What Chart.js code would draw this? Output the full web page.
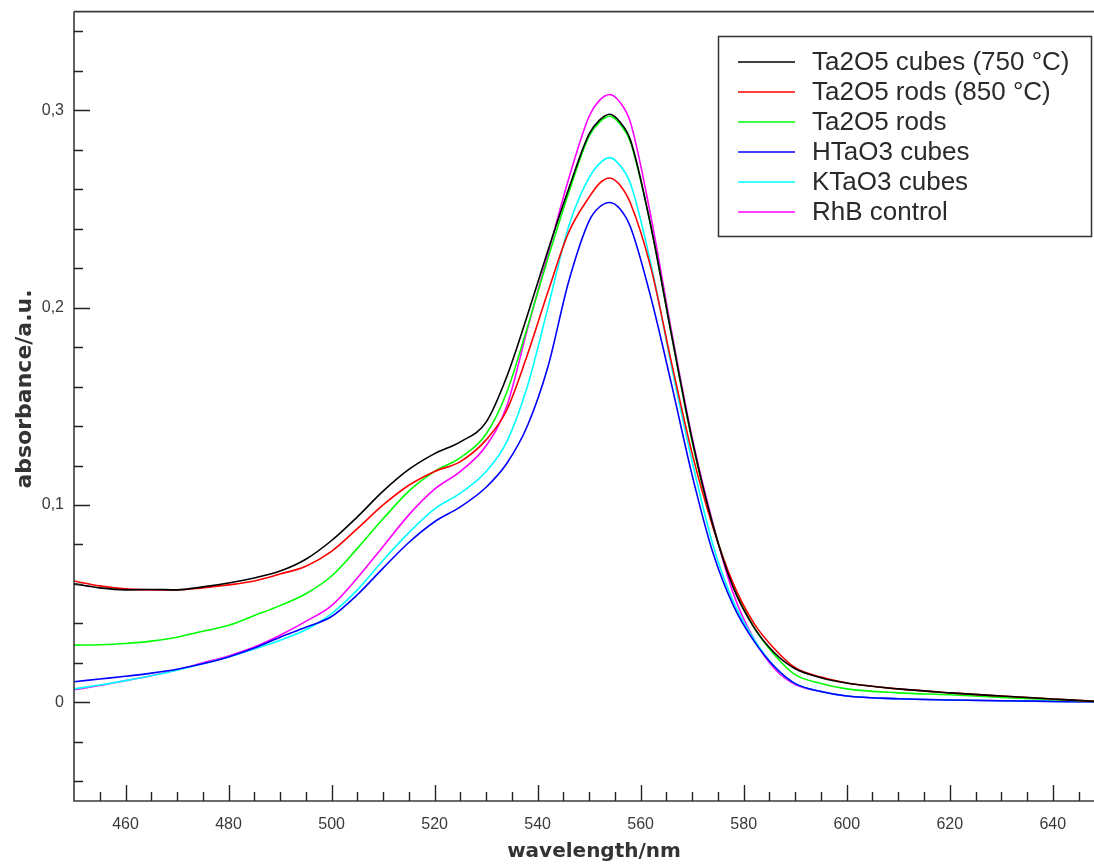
<!DOCTYPE html>
<html>
<head>
<meta charset="utf-8">
<title>absorbance spectra</title>
<script src="https://cdn.jsdelivr.net/npm/chart.js@4.4.1/dist/chart.umd.min.js"></script>
<style>
  html, body { margin: 0; padding: 0; background: #fff; }
  #wrap { width: 1094px; height: 867px; position: relative; }
</style>
</head>
<body>
<div id="wrap"><canvas id="chartSpectra"></canvas></div>
<script>
// wavelength grid (nm) shared by all spectra
const wavelengths = [450, 455, 460, 465, 470, 475, 480, 485, 490, 495, 500, 505, 510, 515, 520, 525, 530,
  534, 538, 542, 546, 550, 552, 554, 556, 558,
  562, 566, 570, 574, 578, 582, 586, 590, 595, 600, 610, 620, 630, 640, 648];

const ta2o5Cubes750 = [0.060, 0.058, 0.057, 0.0572, 0.057, 0.0585, 0.0605, 0.063, 0.0665, 0.0725, 0.082, 0.094, 0.107, 0.118, 0.126, 0.132, 0.142,
  0.165, 0.196, 0.229, 0.260, 0.288, 0.295, 0.298, 0.294, 0.285,
  0.241, 0.186, 0.133, 0.090, 0.058, 0.038, 0.025, 0.017, 0.0125, 0.0098, 0.0068, 0.0048, 0.0032, 0.0017, 0.0005];
const ta2o5Rods850 = [0.0615, 0.059, 0.0575, 0.057, 0.057, 0.058, 0.0595, 0.0615, 0.065, 0.069, 0.0765, 0.088, 0.1, 0.11, 0.117, 0.122, 0.133,
  0.148, 0.176, 0.208, 0.238, 0.256, 0.263, 0.2657, 0.262, 0.253,
  0.220, 0.172, 0.126, 0.089, 0.060, 0.040, 0.027, 0.0175, 0.0128, 0.0098, 0.0068, 0.0048, 0.0032, 0.0017, 0.0005];
const ta2o5Rods = [0.029, 0.0292, 0.0298, 0.031, 0.033, 0.036, 0.039, 0.044, 0.049, 0.055, 0.064, 0.078, 0.093, 0.107, 0.117, 0.124, 0.136,
  0.157, 0.190, 0.225, 0.258, 0.287, 0.294, 0.297, 0.293, 0.284,
  0.241, 0.186, 0.132, 0.090, 0.059, 0.038, 0.024, 0.014, 0.0095, 0.0068, 0.0048, 0.0038, 0.0025, 0.0013, 0.0005];
const htao3Cubes = [0.0104, 0.0118, 0.0132, 0.0148, 0.0168, 0.0195, 0.023, 0.0275, 0.033, 0.038, 0.0435, 0.0545, 0.068, 0.081, 0.0915, 0.099, 0.109,
  0.121, 0.140, 0.170, 0.213, 0.244, 0.251, 0.2533, 0.250, 0.241,
  0.205, 0.161, 0.115, 0.076, 0.049, 0.031, 0.018, 0.0095, 0.0055, 0.0032, 0.0018, 0.0012, 0.0008, 0.0005, 0.0003];
const ktao3Cubes = [0.0068, 0.0088, 0.011, 0.0135, 0.0163, 0.0195, 0.023, 0.027, 0.0315, 0.0368, 0.045, 0.057, 0.072, 0.086, 0.098, 0.106, 0.117,
  0.132, 0.160, 0.200, 0.241, 0.266, 0.273, 0.276, 0.272, 0.263,
  0.222, 0.170, 0.122, 0.080, 0.051, 0.032, 0.018, 0.0095, 0.0055, 0.0032, 0.0018, 0.0012, 0.0008, 0.0005, 0.0003];
const rhbControl = [0.0064, 0.0085, 0.011, 0.0135, 0.0165, 0.020, 0.0235, 0.028, 0.034, 0.041, 0.049, 0.063, 0.079, 0.095, 0.108, 0.117, 0.130,
  0.150, 0.189, 0.227, 0.265, 0.297, 0.305, 0.308, 0.304, 0.294,
  0.246, 0.188, 0.134, 0.091, 0.055, 0.032, 0.017, 0.009, 0.0055, 0.0032, 0.0018, 0.0012, 0.0008, 0.0005, 0.0003];

const seriesNames = ["Ta2O5 cubes (750 °C)", "Ta2O5 rods (850 °C)", "Ta2O5 rods", "HTaO3 cubes", "KTaO3 cubes", "RhB control"];
const seriesValues = [ta2o5Cubes750, ta2o5Rods850, ta2o5Rods, htao3Cubes, ktao3Cubes, rhbControl];
const seriesColors = ["#000000", "#ff0000", "#00ff00", "#0000ff", "#00ffff", "#ff00ff"];

const xTicks = [460, 480, 500, 520, 540, 560, 580, 600, 620, 640];
const yTicks = [0, 0.1, 0.2, 0.3];
const xTitle = "wavelength/nm";
const yTitle = "absorbance/a.u.";

const axisColor = "#3a3a3a";
const labelFont = "Liberation Sans";

// frame, inward ticks and axis titles
const axisFrame = {
  id: "axisFrame",
  afterDraw(chart) {
    const { ctx, chartArea: area, scales } = chart;
    const x = scales.x, y = scales.y;
    ctx.save();
    ctx.strokeStyle = axisColor;
    ctx.lineWidth = 1.6;
    ctx.beginPath();
    ctx.moveTo(area.left, area.top);
    ctx.lineTo(area.right, area.top);
    ctx.moveTo(area.left, area.top);
    ctx.lineTo(area.left, area.bottom);
    ctx.lineTo(area.right, area.bottom);
    ctx.stroke();

    ctx.lineWidth = 1.4;
    ctx.strokeStyle = "#222";
    ctx.beginPath();
    for (let v = 455; v <= 645; v += 5) {
      const px = Math.round(x.getPixelForValue(v)) + 0.5;
      const len = v % 20 === 0 ? 16 : 9;
      ctx.moveTo(px, area.bottom);
      ctx.lineTo(px, area.bottom - len);
    }
    for (let i = -2; i <= 17; i++) {
      const v = i * 0.02;
      const py = Math.round(y.getPixelForValue(v)) + 0.5;
      const len = i % 5 === 0 ? 16 : 9;
      ctx.moveTo(area.left, py);
      ctx.lineTo(area.left + len, py);
    }
    ctx.stroke();

    ctx.fillStyle = "#333";
    ctx.textAlign = "center";
    ctx.textBaseline = "middle";
    ctx.font = "bold 20px 'DejaVu Sans'";
    ctx.fillText(xTitle, 594, 852);
    ctx.font = "bold 22px 'DejaVu Sans'";
    ctx.translate(25, 389);
    ctx.rotate(-Math.PI / 2);
    ctx.fillText(yTitle, 0, 0);
    ctx.restore();
  }
};

// boxed legend at the top right
const boxLegend = {
  id: "boxLegend",
  afterDraw(chart) {
    const ctx = chart.ctx;
    ctx.save();
    ctx.fillStyle = "#fff";
    ctx.fillRect(718, 36, 374, 201);
    ctx.strokeStyle = "#333";
    ctx.lineWidth = 1.5;
    ctx.strokeRect(718.5, 36.5, 373, 200);
    ctx.font = `26px '${labelFont}'`;
    ctx.textBaseline = "middle";
    ctx.textAlign = "left";
    chart.data.datasets.forEach((ds, i) => {
      const ry = 62 + i * 30;
      ctx.strokeStyle = ds.borderColor;
      ctx.lineWidth = 1.6;
      ctx.beginPath();
      ctx.moveTo(738, ry);
      ctx.lineTo(795, ry);
      ctx.stroke();
      ctx.fillStyle = "#2a2a2a";
      ctx.fillText(ds.label, 812, ry + 1);
    });
    ctx.restore();
  }
};

const datasets = seriesNames.map((name, i) => ({
  label: name,
  data: wavelengths.map((w, j) => ({ x: w, y: seriesValues[i][j] })),
  borderColor: seriesColors[i],
  backgroundColor: seriesColors[i],
  borderWidth: 1.6,
  pointRadius: 0,
  cubicInterpolationMode: "monotone",
  fill: false
}));

const ctx = document.getElementById("chartSpectra").getContext("2d");
new Chart(ctx, {
  type: "line",
  data: { datasets },
  options: {
    responsive: true,
    maintainAspectRatio: false,
    devicePixelRatio: 1,
    animation: false,
    layout: { padding: { top: 3, right: 0, left: 0, bottom: 0 } },
    plugins: {
      legend: { display: false },
      tooltip: { enabled: false }
    },
    scales: {
      x: {
        type: "linear",
        min: 450,
        max: 648,
        grid: { display: false },
        border: { display: false },
        afterBuildTicks: (scale) => { scale.ticks = xTicks.map(v => ({ value: v })); },
        afterFit: (scale) => { scale.height = 66; },
        ticks: {
          padding: 6,
          color: "#3a3a3a",
          font: { size: 16, family: labelFont },
          maxRotation: 0,
          callback: (v) => String(v)
        }
      },
      y: {
        type: "linear",
        min: -0.05,
        max: 0.35,
        grid: { display: false },
        border: { display: false },
        afterBuildTicks: (scale) => { scale.ticks = yTicks.map(v => ({ value: v })); },
        afterFit: (scale) => { scale.width = 74; },
        ticks: {
          padding: 2,
          color: "#3a3a3a",
          font: { size: 16, family: labelFont },
          callback: (v) => v === 0 ? "0" : String(Math.round(v * 10) / 10).replace(".", ",")
        }
      }
    }
  },
  plugins: [axisFrame, boxLegend]
});
</script>
</body>
</html>
